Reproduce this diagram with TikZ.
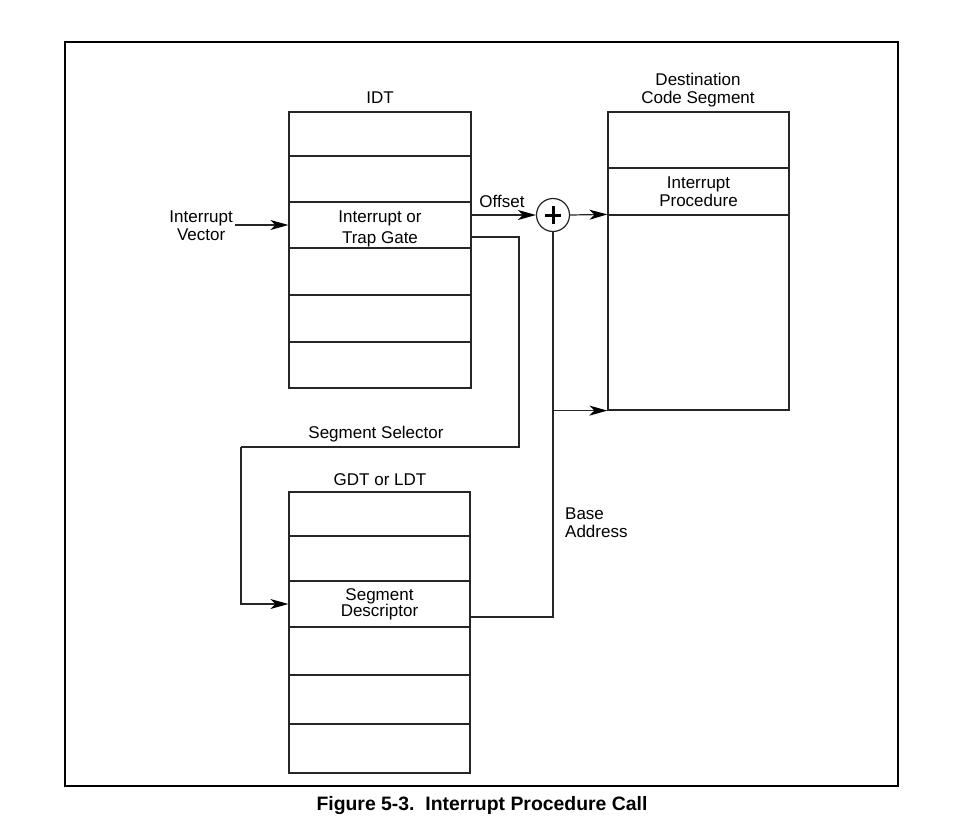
\documentclass[tikz,border=0pt]{standalone}
\usepackage{fontspec}
\setmainfont{Liberation Sans}
\usetikzlibrary{arrows.meta}
\begin{document}
\begin{tikzpicture}[x=1pt,y=-1pt,
  lbl/.style={font=\fontsize{17}{18}\selectfont,align=center,inner sep=0pt},
  tablerow/.style={draw=black!85,line width=1.2pt,rectangle,inner sep=0pt,minimum width=182pt,font=\fontsize{17}{18}\selectfont,align=center},
  conn/.style={draw=black!85,line width=1.2pt},
  arr/.style={conn,-{Stealth[length=18pt,width=10pt,inset=5pt,color=black]}},
  frame/.style={draw=black,line width=1.6pt}]
\useasboundingbox (0,0) rectangle (978,836);
\fill[white] (0,0) rectangle (978,836);
\draw[frame] (65,42) rectangle (898,786);

% IDT
\node[lbl] (idtlbl) at (380,98) {IDT};
\node[tablerow,minimum height=44pt] (idt1) at (380,134) {};
\node[tablerow,minimum height=46pt] (idt2) at (380,179) {};
\node[tablerow,minimum height=46pt] (idt3) at (380,225) {};
\node[lbl,font=\fontsize{17}{21}\selectfont] (idt3txt) at (380,229) {Interrupt or\\Trap Gate};
\node[tablerow,minimum height=47pt] (idt4) at (380,271.5) {};
\node[tablerow,minimum height=47pt] (idt5) at (380,318.5) {};
\node[tablerow,minimum height=46pt] (idt6) at (380,365) {};

% Destination code segment
\node[lbl] (destlbl) at (698,90) {Destination\\Code Segment};
\node[tablerow,minimum width=181pt,minimum height=56pt] (dest1) at (698.5,140) {};
\node[tablerow,minimum width=181pt,minimum height=47pt] (dest2) at (698.5,191.5) {Interrupt\\Procedure};
\node[tablerow,minimum width=181pt,minimum height=195pt] (dest3) at (698.5,312.5) {};

% GDT or LDT
\node[lbl] (gdtlbl) at (380,480) {GDT or LDT};
\node[tablerow,minimum width=181pt,minimum height=44pt] (gdt1) at (379.5,514) {};
\node[tablerow,minimum width=181pt,minimum height=45pt] (gdt2) at (379.5,558.5) {};
\node[tablerow,minimum width=181pt,minimum height=46pt,font=\fontsize{17}{16}\selectfont] (gdt3) at (379.5,604) {Segment\\Descriptor};
\node[tablerow,minimum width=181pt,minimum height=48pt] (gdt4) at (379.5,651) {};
\node[tablerow,minimum width=181pt,minimum height=49pt] (gdt5) at (379.5,699.5) {};
\node[tablerow,minimum width=181pt,minimum height=49pt] (gdt6) at (379.5,748.5) {};

% adder
\node[circle,draw=black!85,line width=1.2pt,minimum size=33pt,inner sep=0pt] (plus) at (553,215) {};
\draw[line width=3pt] ([xshift=-8pt]plus.center) -- ([xshift=8pt]plus.center);
\draw[line width=3pt] ([yshift=-9pt]plus.center) -- ([yshift=9pt]plus.center);

% labels
\node[lbl,anchor=east] (iv) at (233,226) {Interrupt\\Vector};
\node[lbl] (offlbl) at (502,201) {Offset};
\node[lbl] (sellbl) at (376,434) {Segment Selector};
\node[lbl,anchor=west,align=left] (baselbl) at (565,523) {Base\\Address};

% coordinates
\coordinate (selR) at (519,447);
\coordinate (selL) at (241,447);

% connectors
\draw[arr] (iv.east |- idt3.west) ++(2pt,0) -- (idt3.west);
\draw[arr] ([yshift=10pt]idt3.east) -- (plus.west);
\draw[arr] (plus.east) -- (dest3.north west);
\draw[conn] ([yshift=-12pt]idt3.east) -| (selR) -- (selL);
\draw[arr] (selL) |- (gdt3.west);
\draw[conn] ([yshift=-13pt]gdt3.east) -| (plus.south);
\draw[arr] (plus.south |- dest3.south west) -- (dest3.south west);

% caption
\node[font=\bfseries\fontsize{19.4}{22}\selectfont,inner sep=0pt] (caption) at (482,806) {Figure 5-3.\ \ Interrupt Procedure Call};
\end{tikzpicture}
\end{document}
